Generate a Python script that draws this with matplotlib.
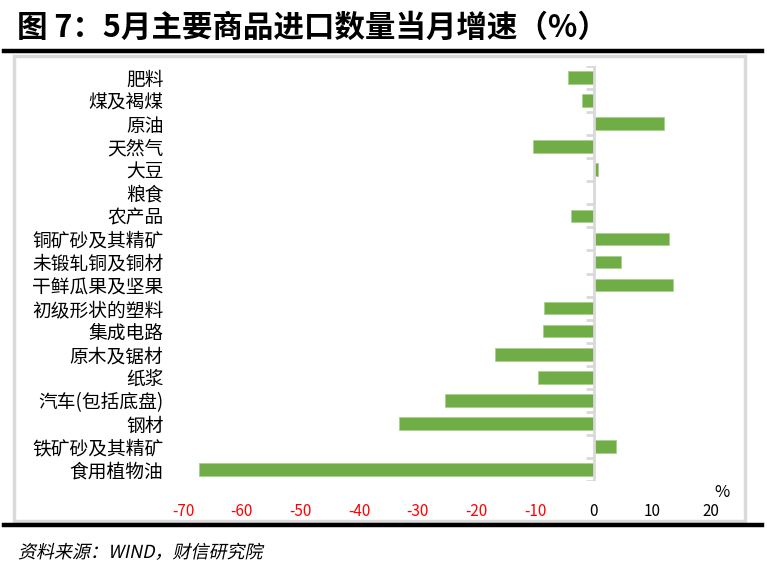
import matplotlib.pyplot as plt
import matplotlib.patches as patches
from matplotlib.lines import Line2D
from matplotlib.textpath import TextPath
from matplotlib.font_manager import FontProperties
from matplotlib.transforms import Affine2D
import numpy as np

plt.rcParams['font.family'] = ['Noto Sans CJK SC', 'DejaVu Sans']

categories = ['肥料', '煤及褐煤', '原油', '天然气', '大豆', '粮食', '农产品',
              '铜矿砂及其精矿', '未锻轧铜及铜材', '干鲜瓜果及坚果', '初级形状的塑料',
              '集成电路', '原木及锯材', '纸浆', '汽车(包括底盘)', '钢材',
              '铁矿砂及其精矿', '食用植物油']
growth = [-4.4, -2.0, 12.0, -10.4, 0.8, 0.0, -3.8,
          12.8, 4.7, 13.6, -8.4,
          -8.6, -16.9, -9.5, -25.4, -33.1,
          3.8, -67.2]
xticks = [-70, -60, -50, -40, -30, -20, -10, 0, 10, 20]

W, H = 767, 579
fig = plt.figure(figsize=(W / 100, H / 100), dpi=100)

# title and rules
fig.text(17 / W, 1 - 28 / H, '图 7：5月主要商品进口数量当月增速（%）',
         fontsize=22, fontweight='bold', va='center', ha='left')
fig.add_artist(Line2D([4 / W, 762 / W], [1 - 51 / H, 1 - 51 / H], color='black', lw=3.2))
fig.add_artist(Line2D([4 / W, 762 / W], [1 - 525 / H, 1 - 525 / H], color='black', lw=3.2))
fig.add_artist(patches.Rectangle((14 / W, 1 - 521 / H), (745 - 14) / W, (521 - 56) / H,
                                 fill=False, edgecolor='#d9d9d9', lw=2.5))

# italic-looking source line (CJK font has no italic, so shear the glyphs)
src = TextPath((0, 0), '资料来源：WIND，财信研究院', size=18,
               prop=FontProperties(family='Noto Sans CJK SC'))
src_tf = Affine2D().skew_deg(12, 0).translate(18, H - 558)
fig.add_artist(patches.PathPatch(src, transform=src_tf, facecolor='black',
                                 edgecolor='none'))

# plot area
ax = fig.add_axes([183 / W, 1 - 481 / H, (711 - 183) / W, (481 - 66) / H])
y = np.arange(len(categories))
ax.barh(y, growth, height=0.55, color='#70ad47', edgecolor='#a9d18e', linewidth=0.6)
ax.set_ylim(len(categories) - 0.5, -0.5)
ax.set_xlim(-70, 20)

for s in ['top', 'right', 'bottom', 'left']:
    ax.spines[s].set_visible(False)
ax.axvline(0, color='#d9d9d9', lw=2, zorder=3)
for b in np.arange(len(categories) + 1) - 0.5:
    ax.plot([-1.3, 0], [b, b], color='#d9d9d9', lw=2, zorder=3, solid_capstyle='butt')

ax.set_yticks(y)
ax.set_yticklabels(categories, fontsize=13.5)
ax.tick_params(axis='y', length=0, pad=14)
ax.set_xticks(xticks)
ax.set_xticklabels([str(t) for t in xticks], fontsize=11)
ax.tick_params(axis='x', length=0, pad=16)
for lbl, t in zip(ax.get_xticklabels(), xticks):
    lbl.set_color('red' if t < 0 else 'black')

ax.text(1.02, -0.028, '%', transform=ax.transAxes, fontsize=12, ha='center', va='center')

fig.savefig('out.png', dpi=100)
